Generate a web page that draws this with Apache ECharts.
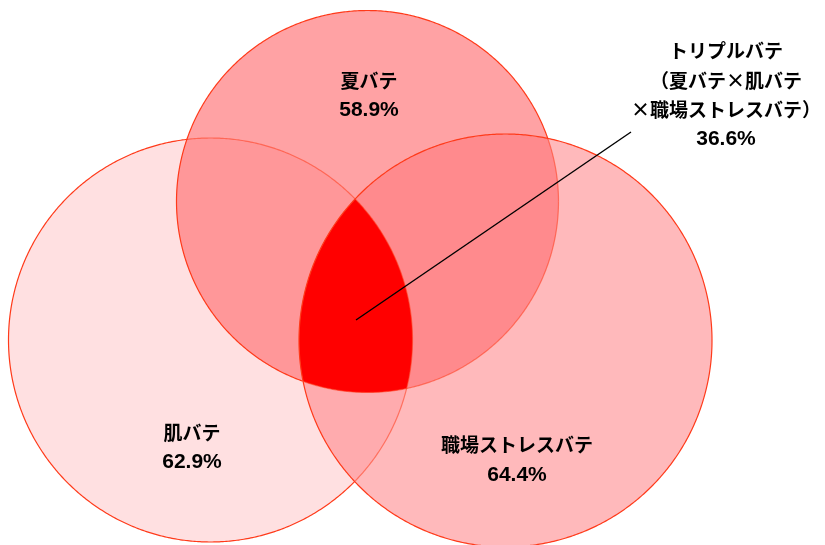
<!DOCTYPE html>
<html>
<head>
<meta charset="utf-8">
<script src="https://cdn.jsdelivr.net/npm/echarts@6/dist/echarts.min.js"></script>
<style>
  html, body { margin: 0; padding: 0; background: #fff; }
  #venn { width: 825px; height: 545px; }
</style>
</head>
<body>
<div id="venn"></div>
<script>
// 集合名と割合（順番：夏バテ, 肌バテ, 職場ストレスバテ）
var setNames = ['夏バテ', '肌バテ', '職場ストレスバテ'];
var setShares = [58.9, 62.9, 64.4];
var tripleLines = ['トリプルバテ', '（夏バテ×肌バテ', '×職場ストレスバテ）'];
var tripleShare = 36.6;

// 円の中心と半径（チャート座標）
var circleCX = [367.5, 210.5, 505.5];
var circleCY = [201.5, 340, 340.5];
var circleR = [191, 202, 206.5];

// レイアウト
var nameX = [369, 192, 517];
var nameY = [81, 433, 445];
var shareY = [110, 462, 475.5];
var tripleX = 726;
var tripleY = [50.5, 81, 110, 139];
var leaderFrom = [356, 320];
var leaderTo = [631, 132];

// 色
var onlyColors = ['#ffa2a4', '#ffe0e1', '#ffb9bb'];
var pairList = [[0, 1, '#ff9799'], [0, 2, '#ff8a8d'], [1, 2, '#ffabae']];
var tripleColor = '#ff0000';
var edgeColor = '#ff3a1a';
var drawOrder = [1, 0, 2];   // 肌 → 夏 → 職場

var chart = echarts.init(document.getElementById('venn'));

// 2円の交点
function meet(a, b) {
    var dx = b.x - a.x, dy = b.y - a.y;
    var d = Math.sqrt(dx * dx + dy * dy);
    var l = (a.r * a.r - b.r * b.r + d * d) / (2 * d);
    var h = Math.sqrt(Math.max(0, a.r * a.r - l * l));
    var mx = a.x + l * dx / d, my = a.y + l * dy / d;
    return [[mx + h * dy / d, my - h * dx / d], [mx - h * dy / d, my + h * dx / d]];
}

function inside(p, c) {
    var dx = p[0] - c.x, dy = p[1] - c.y;
    return Math.sqrt(dx * dx + dy * dy) < c.r - 0.01;
}

// 短い方の円弧を点列に
function arcPts(c, p0, p1) {
    var a0 = Math.atan2(p0[1] - c.y, p0[0] - c.x);
    var a1 = Math.atan2(p1[1] - c.y, p1[0] - c.x);
    var da = a1 - a0;
    while (da > Math.PI) da -= 2 * Math.PI;
    while (da < -Math.PI) da += 2 * Math.PI;
    var n = Math.max(2, Math.ceil(Math.abs(da) / 0.01));
    var pts = [];
    for (var k = 0; k <= n; k++) {
        var a = a0 + da * k / n;
        pts.push([c.x + c.r * Math.cos(a), c.y + c.r * Math.sin(a)]);
    }
    return pts;
}

function pick(list, c) {
    return inside(list[0], c) ? list[0] : list[1];
}

function renderVenn(params, api) {
    var c = [0, 1, 2].map(function (i) {
        var p = api.coord([circleCX[i], circleCY[i]]);
        return { x: p[0], y: p[1], r: api.size([circleR[i], 0])[0] };
    });
    var children = [];

    drawOrder.forEach(function (i) {
        children.push({ type: 'circle', shape: { cx: c[i].x, cy: c[i].y, r: c[i].r }, style: { fill: onlyColors[i] } });
    });

    pairList.forEach(function (pr) {
        var a = c[pr[0]], b = c[pr[1]];
        var pq = meet(a, b);
        var pts = arcPts(a, pq[0], pq[1]).concat(arcPts(b, pq[1], pq[0]));
        children.push({ type: 'polygon', shape: { points: pts }, style: { fill: pr[2] } });
    });

    // 3つの重なり
    var T = c[0], L = c[1], R = c[2];
    var vTop = pick(meet(L, R), T);
    var vBl = pick(meet(T, R), L);
    var vBr = pick(meet(T, L), R);
    var tri = arcPts(R, vTop, vBl).concat(arcPts(T, vBl, vBr), arcPts(L, vBr, vTop));
    children.push({ type: 'polygon', shape: { points: tri }, style: { fill: tripleColor } });

    // 輪郭（上に重なる円の下は薄く）
    drawOrder.forEach(function (i, oi) {
        var above = drawOrder.slice(oi + 1).map(function (j) { return c[j]; });
        var seg = [], lastCov = null;
        var flush = function () {
            if (seg.length > 1) {
                children.push({
                    type: 'polyline', shape: { points: seg },
                    style: { fill: null, stroke: edgeColor, lineWidth: 1.2, opacity: lastCov ? 0.55 : 1 }
                });
            }
        };
        for (var k = 0; k <= 720; k++) {
            var a = k / 720 * 2 * Math.PI;
            var p = [c[i].x + c[i].r * Math.cos(a), c[i].y + c[i].r * Math.sin(a)];
            var cov = above.some(function (o) { return inside(p, o); });
            if (lastCov !== null && cov !== lastCov) {
                seg.push(p);
                flush();
                seg = [];
            }
            seg.push(p);
            lastCov = cov;
        }
        flush();
    });

    return { type: 'group', children: children };
}

function renderLeader(params, api) {
    var p0 = api.coord(leaderFrom), p1 = api.coord(leaderTo);
    return {
        type: 'line',
        shape: { x1: p0[0], y1: p0[1], x2: p1[0], y2: p1[1] },
        style: { stroke: '#000', lineWidth: 1.4 }
    };
}

var jpFont = { fontFamily: '"Noto Sans CJK JP", sans-serif', fontWeight: 'bold', fontSize: 19 };
var numFont = { fontFamily: '"Liberation Sans", Arial, sans-serif', fontWeight: 'bold', fontSize: 21 };

function textEl(p, text, font) {
    return {
        type: 'text', x: p[0], y: p[1],
        style: {
            text: text, fill: '#000', align: 'center', verticalAlign: 'middle',
            fontFamily: font.fontFamily, fontWeight: font.fontWeight, fontSize: font.fontSize
        }
    };
}

function renderLabels(params, api) {
    var i = params.dataIndex;
    return {
        type: 'group',
        children: [
            textEl(api.coord([nameX[i], nameY[i]]), setNames[i], jpFont),
            textEl(api.coord([nameX[i], shareY[i]]), setShares[i].toFixed(1) + '%', numFont)
        ]
    };
}

function renderTriple(params, api) {
    var kids = tripleLines.map(function (t, k) {
        return textEl(api.coord([tripleX, tripleY[k]]), t, jpFont);
    });
    kids.push(textEl(api.coord([tripleX, tripleY[3]]), tripleShare.toFixed(1) + '%', numFont));
    return { type: 'group', children: kids };
}

var option = {
    animation: false,
    grid: { left: 0, right: 0, top: 0, bottom: 0 },
    xAxis: { type: 'value', min: 0, max: 825, show: false },
    yAxis: { type: 'value', min: 0, max: 545, inverse: true, show: false },
    series: [
        { type: 'custom', name: 'venn', renderItem: renderVenn, data: [[0, 0]], silent: true },
        { type: 'custom', name: 'leader', renderItem: renderLeader, data: [[0, 0]], silent: true },
        { type: 'custom', name: 'labels', renderItem: renderLabels, data: setNames.map(function (n, i) { return [nameX[i], nameY[i]]; }), silent: true },
        { type: 'custom', name: 'triple', renderItem: renderTriple, data: [[tripleX, tripleY[0]]], silent: true }
    ]
};

chart.setOption(option);
</script>
</body>
</html>
